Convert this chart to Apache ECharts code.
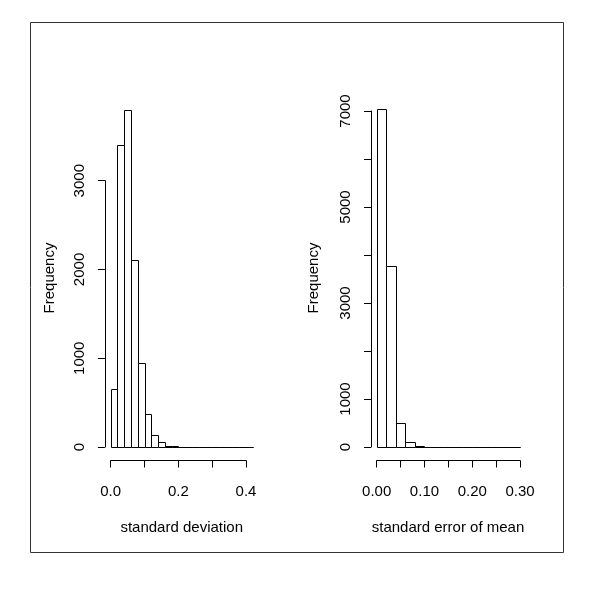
<!DOCTYPE html>
<html>
<head>
<meta charset="utf-8">
<script src="https://cdn.jsdelivr.net/npm/echarts@6/dist/echarts.min.js"></script>
<style>
  html, body { margin: 0; padding: 0; background: #fff; }
  #chart { width: 600px; height: 592px; }
</style>
</head>
<body>
<div id="chart"></div>
<script>
// Histogram of standard deviation: bin width 0.02, from 0 to 0.42
const sdBinStart = 0;
const sdBinWidth = 0.02;
const sdCounts = [657, 3401, 3802, 2106, 942, 368, 131, 60, 16, 6, 3, 2, 1, 1, 0, 0, 0, 0, 0, 0, 1];

// Histogram of standard error of mean: bin width 0.02, from 0 to 0.30
const semBinStart = 0;
const semBinWidth = 0.02;
const semCounts = [7035, 3771, 507, 111, 30, 10, 4, 2, 1, 0, 0, 0, 0, 0, 1];

// Tick settings
const sdXTicks = { min: 0, max: 0.4, interval: 0.1 };
const sdYTicks = { min: 0, max: 3000, interval: 1000 };
const semXTicks = { min: 0, max: 0.3, interval: 0.05 };
const semYTicks = { min: 0, max: 7000, interval: 1000 };
const semYLabelled = [0, 1000, 3000, 5000, 7000];

const FONT = 'Liberation Sans, Arial, sans-serif';
const FS = 15;

function toBins(start, width, counts) {
  return counts.map((c, i) => [start + i * width, start + (i + 1) * width, c]);
}

function renderBar(params, api) {
  const p0 = api.coord([api.value(0), api.value(2)]);
  const p1 = api.coord([api.value(1), 0]);
  const x0 = Math.round(p0[0]) + 0.5;
  const x1 = Math.round(p1[0]) + 0.5;
  const y0 = Math.round(p0[1]) + 0.5;
  const y1 = Math.round(p1[1]) + 0.5;
  return {
    type: 'rect',
    shape: { x: x0, y: y0, width: x1 - x0, height: y1 - y0 },
    style: { fill: '#fff', stroke: '#000', lineWidth: 1 }
  };
}

const axisCommon = {
  axisLine: { show: true, onZero: false, lineStyle: { color: '#000', width: 1 } },
  axisTick: { show: true, length: 7, lineStyle: { color: '#000', width: 1 } },
  splitLine: { show: false }
};

const chart = echarts.init(document.getElementById('chart'), null, { renderer: 'canvas' });

chart.setOption({
  backgroundColor: '#fff',
  animation: false,
  grid: [
    { left: 110.7, top: 180.7, width: 135.3, height: 266.3 },
    { left: 376.7, top: 111, width: 143.3, height: 336 }
  ],
  xAxis: [
    Object.assign({}, axisCommon, {
      gridIndex: 0, type: 'value', position: 'bottom', offset: 13.5,
      min: sdXTicks.min, max: sdXTicks.max, interval: sdXTicks.interval,
      axisLabel: {
        margin: 24, fontFamily: FONT, fontSize: FS, color: '#000',
        formatter: v => (Math.round(v * 10) % 2 === 0 ? v.toFixed(1) : '')
      }
    }),
    Object.assign({}, axisCommon, {
      gridIndex: 1, type: 'value', position: 'bottom', offset: 13.5,
      min: semXTicks.min, max: semXTicks.max, interval: semXTicks.interval,
      axisLabel: {
        margin: 24, fontFamily: FONT, fontSize: FS, color: '#000',
        formatter: v => (Math.round(v * 100) % 10 === 0 ? v.toFixed(2) : '')
      }
    })
  ],
  yAxis: [
    Object.assign({}, axisCommon, {
      gridIndex: 0, type: 'value', position: 'left', offset: 5.8,
      min: sdYTicks.min, max: sdYTicks.max, interval: sdYTicks.interval,
      axisLabel: {
        margin: 18, rotate: 90, fontFamily: FONT, fontSize: FS, color: '#000',
        formatter: v => String(v)
      }
    }),
    Object.assign({}, axisCommon, {
      gridIndex: 1, type: 'value', position: 'left', offset: 5.7,
      min: semYTicks.min, max: semYTicks.max, interval: semYTicks.interval,
      axisLabel: {
        margin: 18, rotate: 90, fontFamily: FONT, fontSize: FS, color: '#000',
        formatter: v => (semYLabelled.indexOf(Math.round(v)) >= 0 ? String(Math.round(v)) : '')
      }
    })
  ],
  series: [
    {
      type: 'custom', xAxisIndex: 0, yAxisIndex: 0, clip: false,
      renderItem: renderBar,
      encode: { x: [0, 1], y: 2 },
      data: toBins(sdBinStart, sdBinWidth, sdCounts)
    },
    {
      type: 'custom', xAxisIndex: 1, yAxisIndex: 1, clip: false,
      renderItem: renderBar,
      encode: { x: [0, 1], y: 2 },
      data: toBins(semBinStart, semBinWidth, semCounts)
    }
  ],
  graphic: [
    {
      type: 'rect', silent: true,
      shape: { x: 30.5, y: 22.5, width: 533, height: 530 },
      style: { fill: null, stroke: '#333', lineWidth: 1 }
    },
    {
      type: 'text', x: 181.7, y: 528,
      style: { text: 'standard deviation', fontFamily: FONT, fontSize: FS, fill: '#000', align: 'center', verticalAlign: 'middle' }
    },
    {
      type: 'text', x: 448, y: 528,
      style: { text: 'standard error of mean', fontFamily: FONT, fontSize: FS, fill: '#000', align: 'center', verticalAlign: 'middle' }
    },
    {
      type: 'text', x: 50, y: 278, rotation: Math.PI / 2,
      style: { text: 'Frequency', fontFamily: FONT, fontSize: FS, fill: '#000', align: 'center', verticalAlign: 'middle' }
    },
    {
      type: 'text', x: 314, y: 278, rotation: Math.PI / 2,
      style: { text: 'Frequency', fontFamily: FONT, fontSize: FS, fill: '#000', align: 'center', verticalAlign: 'middle' }
    }
  ]
});
</script>
</body>
</html>
